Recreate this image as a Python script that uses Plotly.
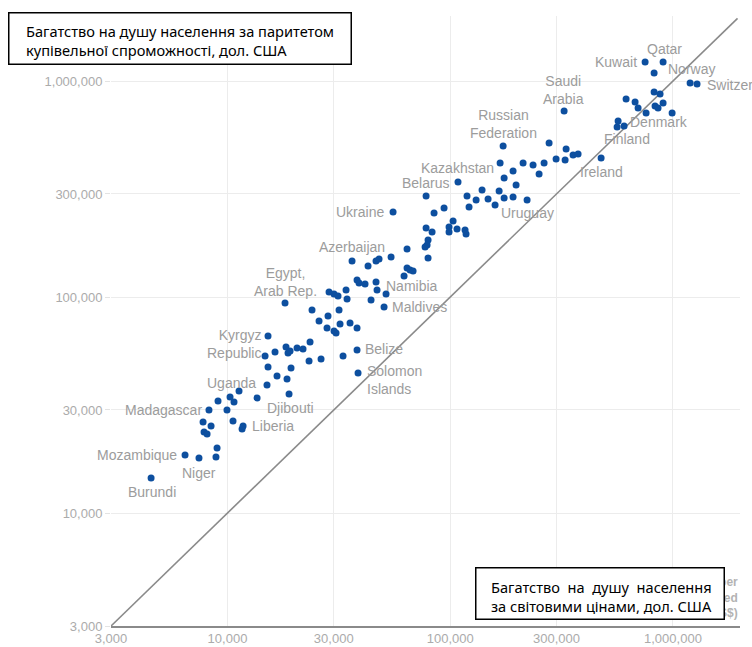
import math
import plotly.graph_objects as go

# Wealth per capita: market-rate (x) vs purchasing-power-parity (y), US$
labeled_names = [
    "Burundi", "Mozambique", "Niger", "Madagascar", "Liberia", "Uganda",
    "Djibouti", "Kyrgyz<br>Republic", "Egypt,<br>Arab Rep.", "Belize",
    "Solomon<br>Islands", "Namibia", "Maldives", "Azerbaijan", "Ukraine",
    "Belarus", "Kazakhstan", "Russian<br>Federation", "Uruguay",
    "Saudi<br>Arabia", "Ireland", "Finland", "Denmark", "Kuwait", "Qatar",
    "Norway", "Switzerland",
]
labeled_market = [
    4540, 6450, 7450, 8260, 11750, 10270,
    13580, 15210, 18130, 38170,
    38570, 46940, 50470, 36250, 55390,
    108400, 167500, 172800, 221400,
    324600, 475800, 561400, 567300, 749900, 903000,
    823000, 1283000,
]
labeled_ppp = [
    14530, 18560, 17980, 30000, 25290, 34460,
    34100, 66030, 93870, 56870,
    44500, 107800, 89950, 146900, 247600,
    341000, 417600, 500400, 281400,
    726900, 440300, 612900, 653400, 1225000, 1225000,
    1090000, 969200,
]

other_market = [
    8980, 8880, 9950, 7770, 8440, 7850, 8100, 10590, 11630, 9070,
    10700, 11270, 15050, 18900, 15210, 16690, 18510, 19290, 14750, 16350,
    18320, 18700, 19100, 20530, 21840, 23480, 23240, 26310, 33030, 23970,
    25770, 28280, 27990, 30090, 30720, 32020, 35510, 38170, 31690, 34430,
    44120, 28580, 30090, 31360, 34070, 38170, 38970, 41460, 46450, 51520,
    42770, 46450, 47920, 54260, 62060, 64010, 66030, 68110, 64010, 77930,
    84630, 93840, 77930, 82900, 79540, 78740, 77130, 79540, 98800, 98800,
    103000, 107300, 116600, 117800, 121500, 119000, 130700, 139000, 147900, 159000,
    165800, 174600, 191500, 197600, 174600, 191500, 212400, 235500, 250600, 263900,
    277900, 298800, 328000, 331400, 356100, 375000, 603400, 616000, 676100, 697400,
    757600, 831000, 857300, 903000, 991300, 823000, 875300, 1194000,
]
other_ppp = [
    20010, 18170, 30000, 26400, 25290, 23730, 23230, 26680, 24500, 33030,
    32670, 36740, 39150, 35580, 47450, 43100, 41740, 46940, 53350, 55670,
    58720, 55080, 56260, 58090, 57470, 61930, 50580, 51670, 53350, 87120,
    77480, 81730, 71900, 69630, 68170, 75030, 75850, 71900, 87120, 97950,
    96920, 105500, 103300, 101100, 107800, 120000, 116200, 114900, 117400, 103300,
    139300, 146900, 150100, 153300, 125200, 136300, 133400, 132000, 166900, 293600,
    245000, 258400, 208800, 200100, 183700, 174200, 170500, 151700, 211000, 200100,
    225000, 206600, 204400, 195900, 261200, 293600, 281400, 313000, 284400, 266900,
    309700, 287500, 290500, 330300, 355900, 383400, 417600, 408800, 371300, 417600,
    516700, 435500, 430900, 484600, 454600, 459500, 619400, 826000, 800000, 750400,
    711500, 766600, 750400, 791500, 711500, 889900, 871200, 979500,
]

# Equal-value reference line (market = PPP)
parity_extent = [3000, 1950000]

tick_values = [3000, 10000, 30000, 100000, 300000, 1000000]
tick_labels = ["3,000", "10,000", "30,000", "100,000", "300,000", "1,000,000"]

axis_min = 3000
axis_max = 2000000

title_ppp = "Багатство на душу населення за паритетом<br>купівельної спроможності, дол. США"
title_market = ("Багатство\u00a0\u00a0на\u00a0\u00a0душу\u00a0\u00a0населення<br>"
                "за світовими цінами, дол. США")
title_market_en = "Wealth per<br>capita, market-rate based<br>(US$)"

# Label placement: (xanchor, xshift, yshift, align)
label_layout = {
    "Burundi": ("center", 1, -14, "center"),
    "Mozambique": ("right", -6, 0, "right"),
    "Niger": ("center", 0, -15, "center"),
    "Madagascar": ("right", -5, 0, "right"),
    "Liberia": ("left", 7, 0, "left"),
    "Uganda": ("center", 1, 14, "center"),
    "Djibouti": ("left", 8, -10, "left"),
    "Kyrgyz<br>Republic": ("right", -5, -8, "right"),
    "Egypt,<br>Arab Rep.": ("center", 0, 21, "center"),
    "Belize": ("left", 6, 1, "left"),
    "Solomon<br>Islands": ("left", 7, -7, "left"),
    "Namibia": ("left", 7, 4, "left"),
    "Maldives": ("left", 6, 0, "left"),
    "Azerbaijan": ("center", 0, 14, "center"),
    "Ukraine": ("right", -7, 0, "right"),
    "Belarus": ("right", -7, -1, "right"),
    "Kazakhstan": ("right", -4, -5, "right"),
    "Russian<br>Federation": ("center", 0, 22, "center"),
    "Uruguay": ("center", 0, -13, "center"),
    "Saudi<br>Arabia": ("center", -1, 21, "center"),
    "Ireland": ("center", 0, -14, "center"),
    "Finland": ("center", 10, -12, "center"),
    "Denmark": ("left", 10, -1, "left"),
    "Kuwait": ("right", -6, 0, "right"),
    "Qatar": ("center", 1, 13, "center"),
    "Norway": ("left", 12, 4, "left"),
    "Switzerland": ("left", 8, -1, "left"),
}

DOT = "#0d4f9f"
LABEL_GREY = "#9c9c9c"
TICK_GREY = "#ababab"
GRID = "#ececec"
FONT = "Liberation Sans, Arial, sans-serif"
BOX_FONT = "Noto Sans, Open Sans, sans-serif"

fig = go.Figure()

fig.add_trace(go.Scatter(
    x=parity_extent, y=parity_extent, mode="lines",
    line=dict(color="#8a8a8a", width=1.6),
    hoverinfo="skip", showlegend=False,
))

fig.add_trace(go.Scatter(
    x=other_market + labeled_market,
    y=other_ppp + labeled_ppp,
    mode="markers",
    marker=dict(color=DOT, size=7, line=dict(width=0)),
    showlegend=False,
))

annotations = []
for name, mx, py in zip(labeled_names, labeled_market, labeled_ppp):
    xa, dx, dy, al = label_layout[name]
    annotations.append(dict(
        x=math.log10(mx), y=math.log10(py), xref="x", yref="y",
        text=name, showarrow=False, xanchor=xa, yanchor="middle",
        xshift=dx, yshift=dy, align=al,
        font=dict(family=FONT, size=14, color=LABEL_GREY),
    ))

# Original English axis title, partly covered by the boxed caption
annotations.append(dict(
    x=1.0, y=0.046, xref="paper", yref="paper", text=title_market_en,
    showarrow=False, xanchor="right", yanchor="middle", align="right",
    font=dict(family=FONT, size=12, color="#b3b3b3", weight="bold"),
))

# Boxed captions: frame first, then the text on top
def caption(x0, y_top, w, h, tx, ty, text):
    annotations.append(dict(
        x=x0, y=y_top, xref="paper", yref="paper", text=" ",
        showarrow=False, xanchor="left", yanchor="top",
        width=w, height=h, bgcolor="white", bordercolor="black",
        borderwidth=1.5, borderpad=0,
    ))
    annotations.append(dict(
        x=tx, y=ty, xref="paper", yref="paper", text=text,
        showarrow=False, xanchor="left", yanchor="middle", align="left",
        font=dict(family=BOX_FONT, size=14.6, color="black"),
    ))

caption(-0.16375, 1.00656, 341, 50, -0.13831, 0.95984, title_ppp)
caption(0.57870, 0.09672, 247, 50, 0.60095, 0.04836, title_market)

log_lo = math.log10(axis_min)
log_hi = math.log10(axis_max)

fig.update_layout(
    width=752, height=647,
    margin=dict(l=111, r=12, t=16, b=21, autoexpand=False),
    paper_bgcolor="white", plot_bgcolor="white",
    annotations=annotations,
    font=dict(family=FONT),
    xaxis=dict(
        type="log", range=[log_lo, log_hi],
        tickvals=tick_values, ticktext=tick_labels,
        showgrid=True, gridcolor=GRID, gridwidth=1,
        showline=True, linecolor="#8a8a8a", linewidth=1.6,
        zeroline=False, ticks="",
        tickfont=dict(family=FONT, size=13, color=TICK_GREY),
    ),
    yaxis=dict(
        type="log", range=[log_lo, log_hi],
        tickvals=tick_values, ticktext=tick_labels,
        showgrid=True, gridcolor=GRID, gridwidth=1,
        showline=False, zeroline=False,
        ticks="outside", ticklen=5, tickcolor="#e3e3e3",
        tickfont=dict(family=FONT, size=13, color=TICK_GREY),
    ),
)

fig.write_html("out.html")
